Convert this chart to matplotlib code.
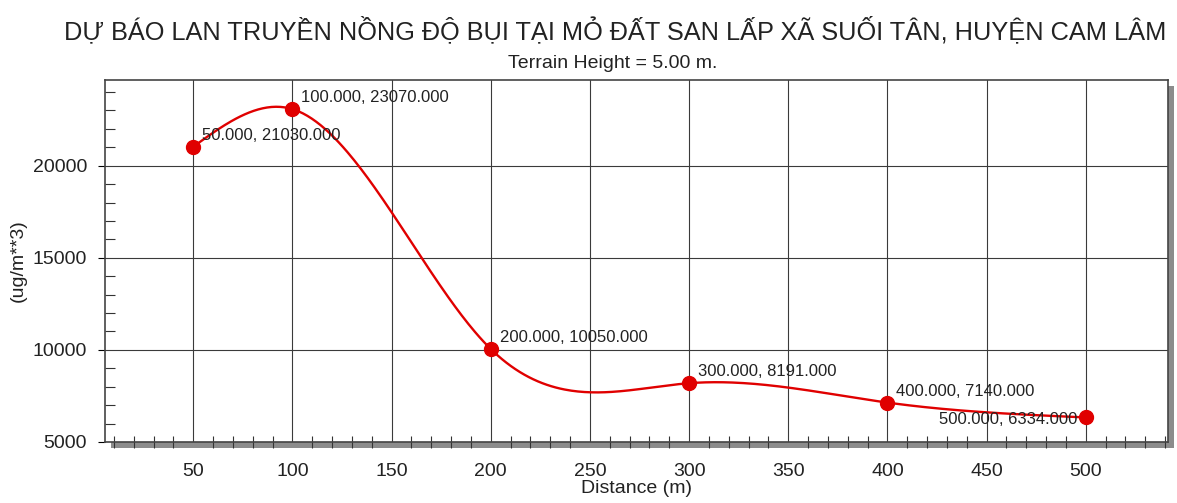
import numpy as np
import matplotlib
matplotlib.use('Agg')
import matplotlib.pyplot as plt
from matplotlib.patches import Rectangle
from matplotlib.ticker import MultipleLocator

plt.rcParams['font.family'] = ['Liberation Sans', 'DejaVu Sans']

# data
distance = [50, 100, 200, 300, 400, 500]
concentration = [21030, 23070, 10050, 8191, 7140, 6334]
labels = ["50.000, 21030.000", "100.000, 23070.000", "200.000, 10050.000",
          "300.000, 8191.000", "400.000, 7140.000", "500.000, 6334.000"]
title = "DỰ BÁO LAN TRUYỀN NỒNG ĐỘ BỤI TẠI MỎ ĐẤT SAN LẤP XÃ SUỐI TÂN, HUYỆN CAM LÂM"
subtitle = "Terrain Height = 5.00 m."


def natural_spline(x, y, xs):
    # smooth curve through the points (natural cubic spline)
    x = np.asarray(x, float)
    y = np.asarray(y, float)
    n = len(x)
    h = np.diff(x)
    A = np.zeros((n, n))
    b = np.zeros(n)
    A[0, 0] = A[-1, -1] = 1
    for i in range(1, n - 1):
        A[i, i - 1] = h[i - 1]
        A[i, i] = 2 * (h[i - 1] + h[i])
        A[i, i + 1] = h[i]
        b[i] = 6 * ((y[i + 1] - y[i]) / h[i] - (y[i] - y[i - 1]) / h[i - 1])
    M = np.linalg.solve(A, b)
    out = np.empty_like(xs)
    for k, v in enumerate(xs):
        i = min(max(np.searchsorted(x, v) - 1, 0), n - 2)
        t1 = x[i + 1] - v
        t0 = v - x[i]
        out[k] = (M[i] * t1 ** 3 + M[i + 1] * t0 ** 3) / (6 * h[i]) \
            + (y[i] / h[i] - M[i] * h[i] / 6) * t1 \
            + (y[i + 1] / h[i] - M[i + 1] * h[i] / 6) * t0
    return out


W, H = 1177, 503
fig = plt.figure(figsize=(W / 100, H / 100), dpi=100)
ax = fig.add_axes([105 / W, 1 - 442 / H, 1063 / W, 362 / H])

# drop shadow behind the plot frame
pos = ax.get_position()
fig.patches.append(Rectangle((pos.x0 + 6 / W, pos.y0 - 6 / H), pos.width, pos.height,
                             transform=fig.transFigure, facecolor='#8c8c8c',
                             edgecolor='none', zorder=-1))

xs = np.linspace(distance[0], distance[-1], 400)
ax.plot(xs, natural_spline(distance, concentration, xs), color='#e00000', lw=1.7, zorder=3)
ax.plot(distance, concentration, 'o', color='#e00000', ms=10, zorder=4)

for xv, yv, lab in zip(distance, concentration, labels):
    if xv == distance[-1]:
        ax.annotate(lab, (xv, yv), xytext=(-6, -4.5), textcoords='offset points',
                    ha='right', va='baseline', fontsize=12, color='#222222', zorder=5)
    else:
        ax.annotate(lab, (xv, yv), xytext=(6.5, 5), textcoords='offset points',
                    ha='left', va='baseline', fontsize=12, color='#222222', zorder=5)

ax.set_xlim(5.5, 541.5)
ax.set_ylim(5000, 24650)
ax.xaxis.set_major_locator(MultipleLocator(50))
ax.xaxis.set_minor_locator(MultipleLocator(10))
ax.yaxis.set_major_locator(MultipleLocator(5000))
ax.yaxis.set_minor_locator(MultipleLocator(1000))
ax.set_xticks(np.arange(50, 501, 50))

ax.grid(True, which='major', color='#3a3a3a', lw=0.8)
ax.tick_params(axis='x', which='major', length=0, pad=15, labelsize=14, labelcolor='#222222')
ax.tick_params(axis='x', which='minor', direction='inout', length=8, width=0.8, color='#333333')
ax.tick_params(axis='y', which='major', direction='out', length=5, pad=8, labelsize=14,
               labelcolor='#222222')
ax.tick_params(axis='y', which='minor', direction='in', length=7, width=0.8, color='#333333')
for sp in ax.spines.values():
    sp.set_color('#444444')
    sp.set_linewidth(1.2)

ax.set_xlabel("Distance (m)", fontsize=14, labelpad=0, color='#222222')
ax.set_ylabel("(ug/m**3)", fontsize=14, labelpad=4, color='#222222')

fig.text(615 / W, 1 - 39 / H, title, ha='center', va='baseline', fontsize=18.3, color='#222222')
fig.text(613 / W, 1 - 68 / H, subtitle, ha='center', va='baseline', fontsize=14, color='#222222')

fig.savefig('out.png', dpi=100, facecolor='white')
